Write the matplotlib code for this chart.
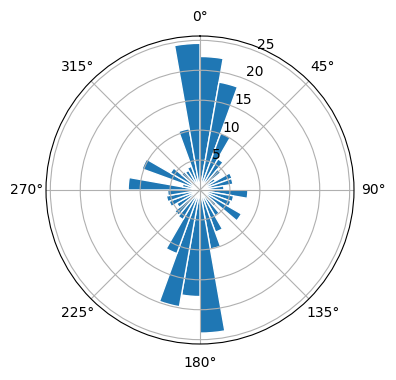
import numpy as np
import matplotlib
matplotlib.use('Agg')
import matplotlib.pyplot as plt

# 36 direction bins of 10 degrees, counts
bin_centers_deg = list(range(5, 360, 10))
counts = [22.3, 18.3, 10.1, 6.0, 4.5, 3.0, 5.7, 5.6, 4.0,
          8.0, 5.7, 5.5, 8.0, 3.5, 5.0, 7.5, 10.0, 23.9,
          17.8, 19.8, 11.3, 5.7, 5.5, 4.5, 5.5, 5.7, 5.4,
          12.0, 3.0, 10.3, 5.7, 4.0, 3.8, 4.2, 10.4, 24.5]
bin_width_deg = 10

fig = plt.figure(figsize=(3.96, 3.8), dpi=100)
ax = fig.add_axes([46 / 396, 36 / 380, 308 / 396, 308 / 380], projection='polar')
ax.set_theta_zero_location('N')
ax.set_theta_direction(-1)

ax.bar(np.deg2rad(bin_centers_deg), counts, width=np.deg2rad(bin_width_deg),
       bottom=0, color='#1f77b4', edgecolor='white', linewidth=1)

ax.set_rticks([5, 10, 15, 20, 25])
ax.grid(True)

plt.savefig('out.png', dpi=100)
